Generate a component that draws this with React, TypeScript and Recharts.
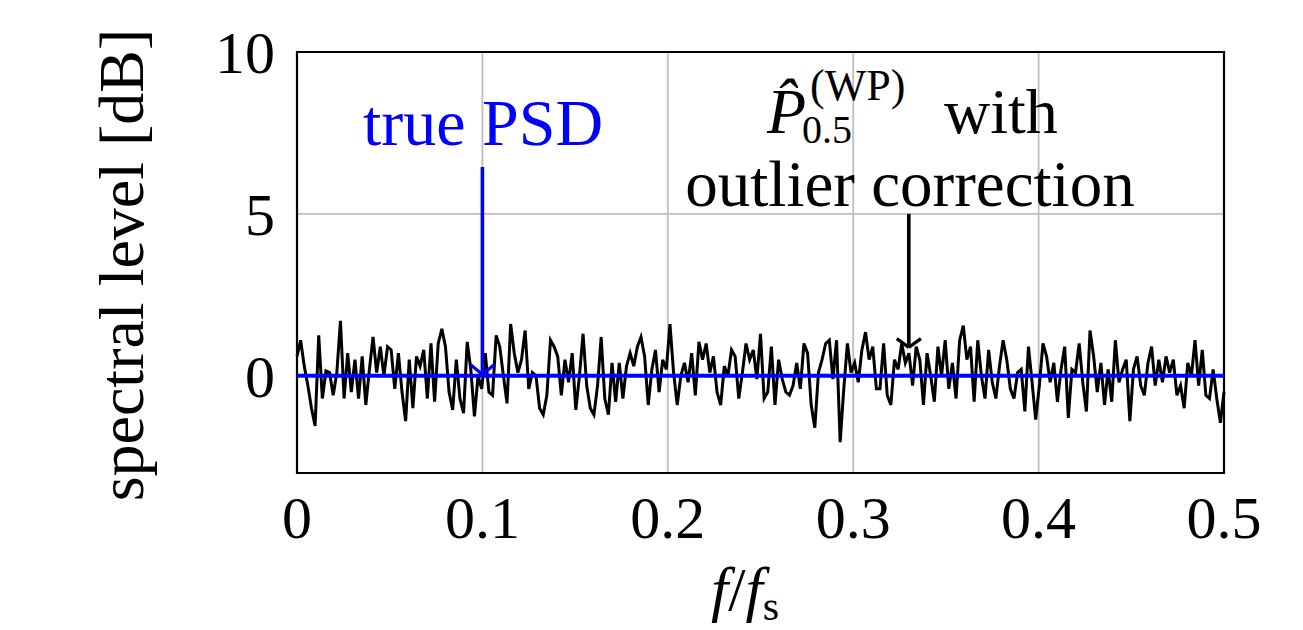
import React from 'react';
import { LineChart, Line, XAxis, YAxis, CartesianGrid, ReferenceLine, ReferenceArea } from 'recharts';

// estimated spectral level in dB, bins k = 0..256 (f = k / 512)
const LEVELS = [
  0.6, 1.1, 0.3, -0.3, -1.0, -1.55, 1.25, -0.7, 0.15, 0.1,
  -0.6, 0.1, 1.7, -0.7, 0.7, -0.5, 0.5, -0.7, 0.6, -0.9,
  0.2, 1.2, 0.1, 0.9, 0.0, 0.9, 0.8, -0.4, 0.7, -0.5,
  -1.4, 0.5, -1.0, 0.6, 0.3, 0.8, -0.7, 1.0, -0.8, 1.0,
  1.45, 0.9, -0.5, -1.05, 0.5, -0.7, -1.15, 1.05, 0.2, -1.25,
  0.0, -0.4, 0.7, -0.5, -0.6, 1.25, 0.9, 0.0, -0.85, 1.6,
  0.7, 0.1, 0.5, 1.4, -0.4, 0.1, 0.0, -1.0, -1.2, -0.6,
  1.1, 0.9, 0.6, -0.6, 0.5, -0.2, 0.7, -1.05, 0.0, 1.3,
  -0.3, -1.0, -1.2, -0.3, 1.2, -0.7, -1.2, 0.4, -0.8, 0.4,
  -0.7, 0.3, 0.7, 0.3, 0.9, 1.2, 0.6, -0.9, 0.2, 0.8,
  -0.5, 0.5, 0.2, 1.6, 0.1, -0.9, 0.0, 0.4, -0.2, 0.7,
  -0.6, 1.05, 0.5, 1.0, 0.1, 0.6, -0.5, -0.9, 0.3, 0.0,
  0.8, 0.6, -0.7, 0.1, 1.0, 0.5, 0.8, -0.1, 1.3, -0.7,
  -0.5, 0.9, -0.9, 0.5, -0.1, -0.5, -0.6, -0.3, 0.4, -0.4,
  1.0, 0.7, -0.9, -1.6, 0.1, 0.5, 1.0, 1.1, -0.1, 1.1,
  -2.05, -0.4, 1.0, 0.1, 0.4, -0.2, 0.8, 1.35, 0.5, 0.9,
  -0.4, -0.4, 1.0, -0.6, -0.9, 0.5, 0.2, 1.0, 0.4, 0.7,
  -0.3, 0.9, 0.5, -0.9, 0.7, 0.0, -0.8, 0.9, 0.0, 1.1,
  -0.4, 0.4, -0.7, 1.1, 1.55, 0.5, 0.9, -0.8, 1.1, 0.0,
  -0.7, 0.8, -0.2, -0.7, 0.3, 1.1, 0.5, -0.4, -0.7, 0.1,
  0.2, -1.1, 0.9, -0.2, -1.35, -0.3, 1.0, 0.6, -0.2, 0.4,
  -0.8, 0.2, 0.9, -1.3, 0.2, 0.1, 1.0, -0.2, -1.1, 1.4,
  0.6, -0.5, 0.4, -0.9, 0.2, -0.8, 1.1, -0.2, 0.2, 0.5,
  -1.4, 0.2, 0.6, -0.3, -0.6, 0.4, 0.9, -0.3, 0.5, -0.2,
  0.6, 0.1, 0.5, -0.6, -0.3, -1.0, 0.4, 0.0, 1.1, -0.3,
  0.8, -0.6, -0.7, 0.2, -0.7, -1.45, -0.5,
];

const X_TICKS = [0, 0.1, 0.2, 0.3, 0.4, 0.5];
const Y_TICKS = [0, 5, 10];
const TRUE_PSD = [
  { f: 0, v: 0 },
  { f: 0.5, v: 0 },
];

const data = LEVELS.map((v, k) => ({ f: k / 512, v }));

const FONT = 'Liberation Serif';
const BLUE = '#0000ff';

export default function App() {
  const tick = { fontFamily: FONT, fontSize: 60, fill: '#000' };
  return (
    <div style={{ position: 'absolute', left: 0, top: 0, width: 1303, height: 630, background: '#fff' }}>
      <LineChart width={1303} height={630} data={data} margin={{ top: 52, right: 79, bottom: 0, left: 0 }}>
        <CartesianGrid stroke="#bfbfbf" strokeWidth={1.8} verticalValues={[0.1, 0.2, 0.3, 0.4]} horizontalValues={[5]} />
        <XAxis
          dataKey="f"
          type="number"
          domain={[0, 0.5]}
          ticks={X_TICKS}
          height={157}
          axisLine={false}
          tickLine={false}
          tickSize={0}
          tickMargin={22}
          tick={tick}
        />
        <YAxis
          type="number"
          domain={[-3, 10]}
          ticks={Y_TICKS}
          width={297}
          axisLine={false}
          tickLine={false}
          tickSize={0}
          tickMargin={22}
          tick={tick}
        />
        <Line dataKey="v" stroke="#000" strokeWidth={3} style={{ strokeWidth: 3 }} dot={false} isAnimationActive={false} />
        <Line data={TRUE_PSD} dataKey="v" stroke={BLUE} strokeWidth={4} style={{ strokeWidth: 4 }} dot={false} isAnimationActive={false} />
        {/* true PSD arrow */}
        <ReferenceLine segment={[{ x: 0.1, y: 6.45 }, { x: 0.1, y: 0.05 }]} stroke={BLUE} strokeWidth={3.6} ifOverflow="visible" />
        <ReferenceLine segment={[{ x: 0.0935, y: 0.35 }, { x: 0.1, y: 0.04 }]} stroke={BLUE} strokeWidth={3.2} ifOverflow="visible" />
        <ReferenceLine segment={[{ x: 0.1065, y: 0.35 }, { x: 0.1, y: 0.04 }]} stroke={BLUE} strokeWidth={3.2} ifOverflow="visible" />
        {/* estimate arrow */}
        <ReferenceLine segment={[{ x: 0.33, y: 5 }, { x: 0.33, y: 0.9 }]} stroke="#000" strokeWidth={3.6} ifOverflow="visible" />
        <ReferenceLine segment={[{ x: 0.3235, y: 1.15 }, { x: 0.33, y: 0.88 }]} stroke="#000" strokeWidth={3.2} ifOverflow="visible" />
        <ReferenceLine segment={[{ x: 0.3365, y: 1.15 }, { x: 0.33, y: 0.88 }]} stroke="#000" strokeWidth={3.2} ifOverflow="visible" />
        <ReferenceArea x1={0} x2={0.5} y1={-3} y2={10} fill="none" stroke="#000" strokeWidth={2.2} ifOverflow="visible" />
      </LineChart>
      <svg width={1303} height={630} style={{ position: 'absolute', left: 0, top: 0, pointerEvents: 'none' }}>
        <g fontFamily={FONT}>
          <text x={483} y={145} textAnchor="middle" fontSize={66} fill={BLUE}>true PSD</text>
          <text x={767} y={133} fontSize={64} fontStyle="italic">{'P\u0302'}</text>
          <text x={802} y={143} fontSize={40}>0.5</text>
          <text x={810} y={100} fontSize={44}>(WP)</text>
          <text x={944} y={133} fontSize={64}>with</text>
          <text x={910} y={206} textAnchor="middle" fontSize={65}>outlier correction</text>
          <text transform="translate(143,265) rotate(-90)" textAnchor="middle" fontSize={64}>spectral level [dB]</text>
          <text x={745} y={610} textAnchor="middle" fontSize={62}>
            <tspan fontStyle="italic">f</tspan>
            <tspan>/</tspan>
            <tspan fontStyle="italic">f</tspan>
            <tspan fontSize={42} dy={10}>s</tspan>
          </text>
        </g>
      </svg>
    </div>
  );
}
